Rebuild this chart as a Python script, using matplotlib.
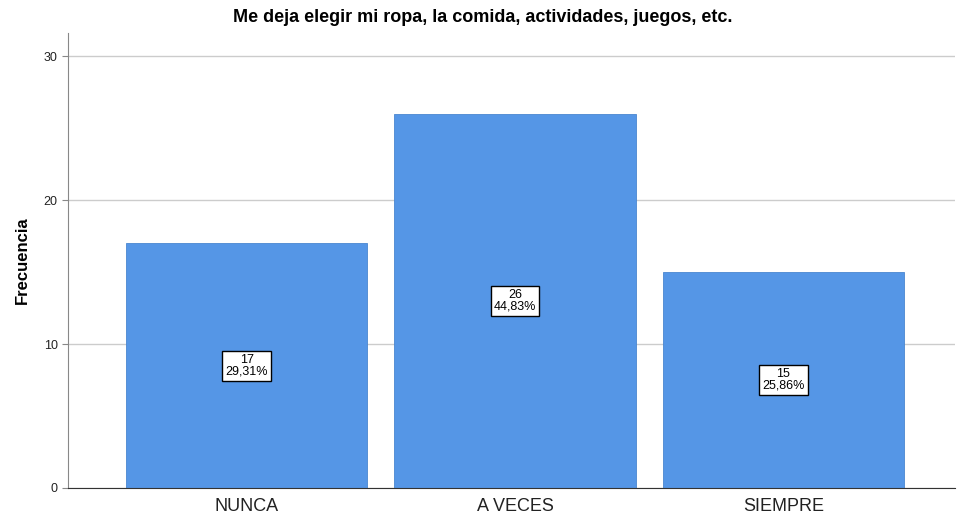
import matplotlib
matplotlib.use("Agg")
import matplotlib.pyplot as plt

categories = ["NUNCA", "A VECES", "SIEMPRE"]
counts = [17, 26, 15]
percents = ["29,31%", "44,83%", "25,86%"]
title = "Me deja elegir mi ropa, la comida, actividades, juegos, etc."

plt.rcParams['font.family'] = ['Liberation Sans', 'DejaVu Sans']
fig = plt.figure(figsize=(9.57, 5.17), dpi=100)
ax = fig.add_axes([68/957, 1-488/517, (955-68)/957, (488-33)/517])

x = list(range(len(categories)))
ax.bar(x, counts, width=0.9, color="#5596e6", edgecolor="#4a86d0", linewidth=0.6, zorder=2)
for xi, c, p in zip(x, counts, percents):
    ax.text(xi, c/2, f"{c}\n{p}", ha="center", va="center", fontsize=9, linespacing=0.95,
            bbox=dict(boxstyle="square,pad=0.25", facecolor="white", edgecolor="black", linewidth=1), zorder=3)

ax.set_xlim(-0.666, 2.64)
ax.set_ylim(0, 31.6)
ax.set_yticks([0, 10, 20, 30])
ax.set_xticks(x)
ax.set_xticklabels(categories, fontsize=13, color="#222222")
ax.tick_params(axis='y', labelsize=9, length=4, color="#888888", labelcolor="#222222")
ax.tick_params(axis='x', length=0, pad=7)
ax.yaxis.grid(True, color="#cccccc", linewidth=1, zorder=0)
ax.set_axisbelow(True)
for s in ["top", "right"]:
    ax.spines[s].set_visible(False)
ax.spines["left"].set_color("#888888")
ax.spines["bottom"].set_color("#333333")
ax.set_ylabel("Frecuencia", fontsize=12, fontweight="bold", labelpad=10)
fig.text(483/957, 1-18/517, title, ha="center", va="center", fontsize=13, fontweight="bold")
fig.savefig("out.png", dpi=100)
